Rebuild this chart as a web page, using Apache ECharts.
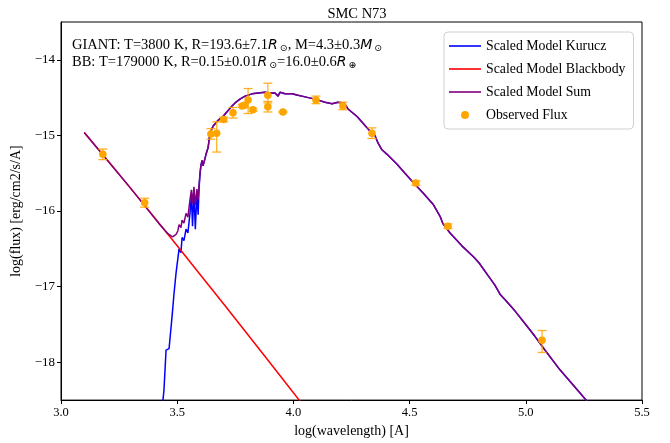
<!DOCTYPE html>
<html><head><meta charset="utf-8">
<script src="https://cdn.jsdelivr.net/npm/echarts@6/dist/echarts.min.js"></script>
<style>html,body{margin:0;padding:0;background:#fff}#c{width:670px;height:443px}</style>
</head><body><div id="c"></div>
<script>
// ---- data ----
const kuruczX = [3.437,3.439,3.443,3.452,3.465,3.478,3.486,3.495,3.503,3.508,3.516,3.521,3.529,3.538,3.546,3.555,3.561,3.566,3.572,3.578,3.585,3.590,3.594,3.598,3.602,3.607,3.611,3.615,3.624,3.633,3.641,3.654,3.676,3.697,3.719,3.736,3.749,3.770,3.792,3.822,3.848,3.878,3.899,3.921,3.934,3.942,3.964,3.994,4.020,4.050,4.093,4.136,4.166,4.192,4.218,4.235,4.274,4.308,4.338,4.351,4.364,4.381,4.403,4.446,4.480,4.515,4.558,4.601,4.631,4.644,4.674,4.725,4.777,4.800,4.837,4.867,4.889,4.910,4.953,4.997,5.040,5.083,5.147,5.212,5.268];
const kuruczY = [-18.7,-18.49,-18.37,-17.84,-17.82,-17.39,-17.10,-16.82,-16.81,-16.50,-16.55,-16.35,-16.39,-16.24,-16.29,-16.03,-15.80,-16.20,-15.74,-16.24,-15.75,-16.05,-15.70,-15.52,-15.40,-15.33,-15.40,-15.36,-15.25,-15.16,-14.97,-14.88,-14.80,-14.75,-14.67,-14.61,-14.57,-14.52,-14.48,-14.45,-14.44,-14.43,-14.44,-14.44,-14.48,-14.43,-14.45,-14.45,-14.47,-14.49,-14.52,-14.56,-14.58,-14.56,-14.57,-14.65,-14.75,-14.87,-14.97,-15.00,-15.10,-15.19,-15.25,-15.38,-15.50,-15.62,-15.76,-15.91,-16.07,-16.17,-16.29,-16.46,-16.61,-16.69,-16.85,-16.98,-17.10,-17.17,-17.32,-17.49,-17.66,-17.84,-18.10,-18.33,-18.53];
const bbX = [3.10,3.30,3.50,3.70,3.90,4.03];
const bbY = [-14.96,-15.70,-16.46,-17.23,-18.01,-18.52];
// sum where the blackbody matters (short wavelengths); beyond it follows Kurucz
const sumHeadX = [3.10,3.30,3.42,3.46,3.48,3.486,3.495,3.503,3.508,3.516,3.521,3.529,3.538,3.546,3.555,3.561,3.566,3.572,3.578,3.585,3.590,3.594,3.598];
const sumHeadY = [-14.96,-15.70,-16.16,-16.30,-16.34,-16.33,-16.31,-16.26,-16.18,-16.22,-16.12,-16.16,-16.03,-16.08,-15.85,-15.72,-15.90,-15.68,-15.92,-15.71,-15.85,-15.66,-15.50];
const obsX = [3.18,3.36,3.645,3.67,3.70,3.74,3.78,3.79,3.805,3.826,3.89,3.89,3.955,4.097,4.213,4.338,4.527,4.665,5.07];
const obsY = [-15.25,-15.89,-14.98,-14.97,-14.79,-14.70,-14.61,-14.60,-14.53,-14.66,-14.47,-14.62,-14.69,-14.53,-14.61,-14.97,-15.63,-16.20,-17.71];
const obsErrUp = [0.07,0.06,0.07,0.15,0.03,0.07,0.02,0.02,0.15,0.02,0.16,0.07,0.01,0.05,0.05,0.07,0.03,0.03,0.13];
const obsErrDown = [0.07,0.06,0.07,0.25,0.03,0.07,0.02,0.02,0.18,0.02,0.10,0.07,0.01,0.05,0.05,0.07,0.03,0.03,0.16];
const xTicks = [3.0,3.5,4.0,4.5,5.0,5.5];
const yTicks = [-18,-17,-16,-15,-14];

// ---- build ----
const kurucz = kuruczX.map((x,i)=>[x,kuruczY[i]]);
const bb = bbX.map((x,i)=>[x,bbY[i]]);
const sum = sumHeadX.map((x,i)=>[x,sumHeadY[i]]).concat(kurucz.filter(p=>p[0]>3.6));
const obs = obsX.map((x,i)=>[x,obsY[i]]);
const errs = obsX.map((x,i)=>[x,obsY[i],obsErrUp[i],obsErrDown[i]]);

const serif = 'Liberation Serif, Times New Roman, serif';
const minus = v => String(v).replace('-', '\u2212');
const lineIcon = 'path://M0,0L0,0M0,3.2L32,3.2L32,4.8L0,4.8ZM32,8L32,8';
const chart = echarts.init(document.getElementById('c'), null, {renderer:'canvas'});
chart.setOption({
  animation:false,
  backgroundColor:'#fff',
  title:{text:'SMC N73', left:352, top:2, textAlign:'center',
    textStyle:{fontFamily:serif, fontSize:14.5, fontWeight:'normal', color:'#000'}},
  grid:{left:61, right:28, top:22, bottom:36, show:true, borderColor:'#000', borderWidth:1},
  legend:{orient:'vertical', left:444, top:32, padding:[6,8,6,5], itemGap:7,
    itemWidth:32, itemHeight:8, itemTextGap:7, backgroundColor:'#fff', borderColor:'#d0d0d0', borderWidth:1, borderRadius:4,
    textStyle:{fontFamily:serif, fontSize:13.8, color:'#000', lineHeight:16},
    data:[{name:'Scaled Model Kurucz', icon:lineIcon},{name:'Scaled Model Blackbody', icon:lineIcon},
          {name:'Scaled Model Sum', icon:lineIcon},{name:'Observed Flux', icon:'circle'}]},
  xAxis:{type:'value', min:3.0, max:5.5, interval:0.5,
    name:'log(wavelength) [A]', nameLocation:'middle', nameGap:20,
    nameTextStyle:{fontFamily:serif, fontSize:14, color:'#000'},
    axisLine:{lineStyle:{color:'#000'}}, axisTick:{show:true, length:4, lineStyle:{color:'#000'}},
    axisLabel:{fontFamily:serif, fontSize:12.5, color:'#000', margin:6, formatter:v=>v.toFixed(1)},
    splitLine:{show:false}},
  yAxis:{type:'value', min:-18.5, max:-13.5,
    name:'log(flux) [erg/cm2/s/A]', nameLocation:'middle', nameGap:31,
    nameTextStyle:{fontFamily:serif, fontSize:14, color:'#000'},
    axisLine:{show:true, lineStyle:{color:'#000'}},
    axisTick:{show:true, length:4, lineStyle:{color:'#000'}, customValues:yTicks},
    axisLabel:{fontFamily:serif, fontSize:13, color:'#000', margin:6, customValues:yTicks, formatter:v=>minus(v)},
    splitLine:{show:false}},
  graphic:[{type:'text', left:72, top:38, z:100,
    style:{text:'{n|GIANT: T=3800 K, R=193.6±7.1}{i|R}{s|⊙}{n|, M=4.3±0.3}{i|M}{s|⊙}\n{n|BB: T=179000 K, R=0.15±0.01}{i|R}{s|⊙}{n|=16.0±0.6}{i|R}{s|⊕}',
      rich:{
        n:{fontFamily:serif, fontSize:14.5, color:'#000', lineHeight:17},
        i:{fontFamily:'DejaVu Sans', fontStyle:'italic', fontSize:14, color:'#000', lineHeight:17},
        s:{fontFamily:'DejaVu Sans', fontSize:9.5, color:'#000', lineHeight:17, verticalAlign:'bottom', padding:[4,0,0,2]}
      }}}],
  series:[
    {name:'Scaled Model Kurucz', type:'line', data:kurucz, symbol:'none', clip:true,
      lineStyle:{color:'#0000ff', width:1.5}, itemStyle:{color:'#0000ff'}, z:2},
    {name:'Scaled Model Blackbody', type:'line', data:bb, symbol:'none', clip:true, smooth:0.3,
      lineStyle:{color:'#ff0000', width:1.5}, itemStyle:{color:'#ff0000'}, z:3},
    {name:'Scaled Model Sum', type:'line', data:sum, symbol:'none', clip:true,
      lineStyle:{color:'#800080', width:1.5}, itemStyle:{color:'#800080'}, z:4},
    {type:'custom', name:'err', data:errs, clip:true, z:5,
      renderItem:(params, api)=>{
        const x=api.value(0), y=api.value(1), up=api.value(2), dn=api.value(3);
        const t=api.coord([x,y+up]), b=api.coord([x,y-dn]);
        const w=4.5, st={stroke:'#FFA500', lineWidth:1.3, opacity:0.85};
        return {type:'group', children:[
          {type:'line', shape:{x1:t[0],y1:t[1],x2:b[0],y2:b[1]}, style:st},
          {type:'line', shape:{x1:t[0]-w,y1:t[1],x2:t[0]+w,y2:t[1]}, style:st},
          {type:'line', shape:{x1:b[0]-w,y1:b[1],x2:b[0]+w,y2:b[1]}, style:st}
        ]};
      }},
    {name:'Observed Flux', type:'scatter', data:obs, symbol:'circle', symbolSize:7.5, z:6,
      itemStyle:{color:'#FFA500', opacity:1}}
  ]
});
</script></body></html>
